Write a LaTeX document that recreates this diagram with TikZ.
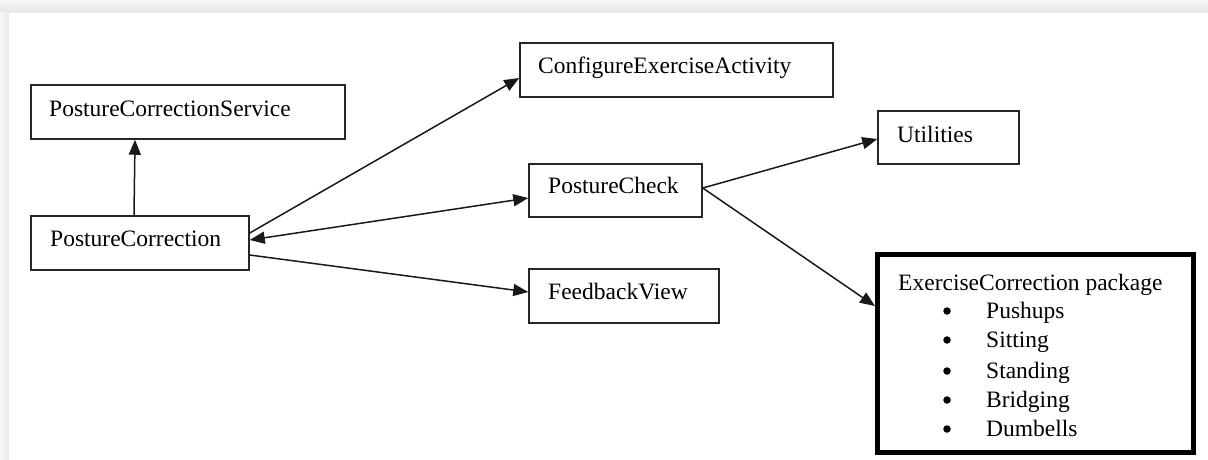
\documentclass[tikz,border=0pt]{standalone}
\usepackage{fontspec}
\setmainfont{Liberation Serif}
\usetikzlibrary{arrows.meta}
\tikzset{
  box/.style={draw=black!85, line width=1.5pt, fill=white, inner sep=0pt},
  pkgbox/.style={draw=black, line width=5pt, fill=white, inner sep=0pt},
  lbl/.style={inner sep=0pt, anchor=base west, font=\fontsize{23.5}{28}\selectfont, text=black},
  dot/.style={fill=black, circle, inner sep=0pt, minimum size=7.5pt},
  arr/.style={draw=black!90, line width=1.5pt, -{Triangle[length=15pt,width=12pt]}},
  darr/.style={draw=black!90, line width=1.5pt, {Triangle[length=15pt,width=12pt]}-{Triangle[length=15pt,width=12pt]}}
}
\begin{document}
\begin{tikzpicture}[x=1pt,y=-1pt]
\useasboundingbox (0,0) rectangle (1208,459);
% page background with soft grey edges
\fill[white] (0,0) rectangle (1208,459);
\shade[top color=black!4, bottom color=black!9] (0,0) rectangle (1208,12);
\shade[left color=black!4, right color=black!8] (0,12) rectangle (9,459);

% boxes
\node[box, minimum width=314pt, minimum height=54pt] (svc)  at (188,112)   {};
\node[box, minimum width=218pt, minimum height=54pt] (pc)   at (140,243)   {};
\node[box, minimum width=313pt, minimum height=54pt] (cfg)  at (676.5,70)  {};
\node[box, minimum width=173pt, minimum height=53pt] (chk)  at (615.5,190.5) {};
\node[box, minimum width=190pt, minimum height=54pt] (fb)   at (624,296)   {};
\node[box, minimum width=141pt, minimum height=53pt] (util) at (948.5,137.5) {};
\node[pkgbox, minimum width=316pt, minimum height=198pt] (ex) at (1035.5,353.5) {};

% labels
\node[lbl] (svc-t)  at (49,116)  {PostureCorrectionService};
\node[lbl] (pc-t)   at (50,246)  {PostureCorrection};
\node[lbl] (cfg-t)  at (538,73)  {ConfigureExerciseActivity};
\node[lbl] (chk-t)  at (548,193) {PostureCheck};
\node[lbl] (fb-t)   at (548,299) {FeedbackView};
\node[lbl] (util-t) at (897,142) {Utilities};
\node[lbl] (ex-t)   at (898,290) {ExerciseCorrection package};

% bulleted list inside the package box
\foreach \y/\name/\txt in {318/1/Pushups, 347/2/Sitting, 378/3/Standing, 407/4/Bridging, 436/5/Dumbells} {
  \node[dot] (b\name) at (947,\y-7) {};
  \node[lbl] (ex-\name) at (986,\y) {\txt};
}

% connectors
\draw[arr]  ([xshift=-6pt]pc.north) -- ([xshift=-53pt]svc.south);
\draw[arr]  ([yshift=10pt]pc.east) -- ([yshift=-8pt]cfg.west);
\draw[darr] ([yshift=3pt]pc.east) -- ([yshift=-7.5pt]chk.west);
\draw[arr]  ([yshift=-12pt]pc.east) -- ([yshift=4pt]fb.west);
\draw[arr]  ([yshift=2.5pt]chk.east) -- ([yshift=-1.5pt]util.west);
\draw[arr]  ([yshift=2.5pt]chk.east) -- ([yshift=47.5pt]ex.west);
\end{tikzpicture}
\end{document}
